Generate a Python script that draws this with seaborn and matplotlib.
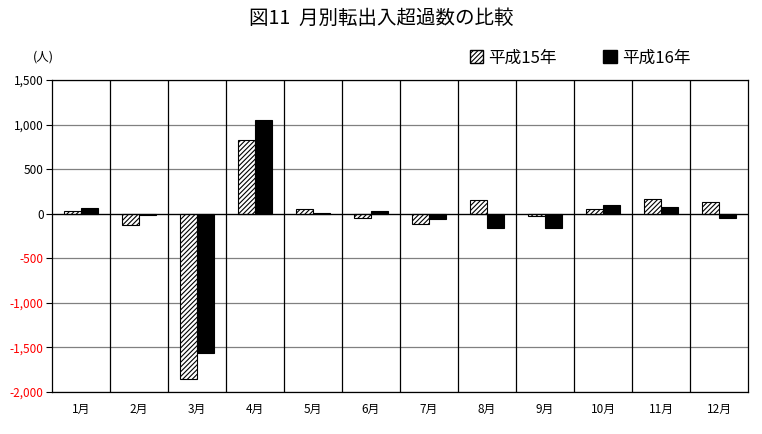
import pandas as pd
import numpy as np
import seaborn as sns
import matplotlib.pyplot as plt
from matplotlib.patches import Patch

# monthly net migration (persons)
months = ['1月', '2月', '3月', '4月', '5月', '6月', '7月', '8月', '9月', '10月', '11月', '12月']
h15 = [35, -125, -1850, 830, 55, -45, -112, 157, -25, 56, 168, 135]
h16 = [60, -10, -1560, 1050, 10, 35, -60, -160, -160, 93, 70, -50]
series = ['平成15年', '平成16年']

df = pd.DataFrame({
    'month': months * 2,
    'value': h15 + h16,
    'year': [series[0]] * 12 + [series[1]] * 12,
})

sns.set_style('white', {'text.color': 'black', 'xtick.color': 'black', 'ytick.color': 'black'})
plt.rcParams['font.family'] = ['Noto Sans CJK JP', 'DejaVu Sans']
plt.rcParams['hatch.linewidth'] = 0.8

fig = plt.figure(figsize=(7.62, 4.34), dpi=100)
ax = fig.add_axes([52 / 762, 1 - 392 / 434, 696 / 762, 312 / 434])

sns.barplot(data=df, x='month', y='value', hue='year', palette=['white', 'black'],
            width=0.6, edgecolor='black', linewidth=0.8, legend=False, ax=ax, zorder=3)

# hatch the first series
for p in ax.patches[:12]:
    p.set_hatch('///////')

ax.set_ylim(-2000, 1500)
ax.set_xlim(-0.5, 11.5)
ax.set_yticks(np.arange(-2000, 1501, 500))
ax.set_yticklabels([f'{v:,}' for v in range(-2000, 1501, 500)], fontsize=8.5)
for t in ax.get_yticklabels():
    t.set_color('red' if t.get_text().startswith('-') else 'black')
ax.tick_params(axis='y', length=4, direction='out', left=True, pad=2)
ax.tick_params(axis='x', length=0, labelsize=8.5, pad=8, labelcolor='black')

ax.yaxis.grid(True, color='gray', linewidth=0.9, zorder=0)
for x in np.arange(0.5, 11.5, 1):
    ax.axvline(x, color='black', linewidth=0.9, zorder=1)
ax.axhline(0, color='black', linewidth=0.9, zorder=4)
for s in ax.spines.values():
    s.set_color('black')
    s.set_linewidth(0.9)

ax.set_xlabel('')
ax.set_ylabel('')

fig.text(0.5, 1 - 18 / 434, '図11  月別転出入超過数の比較', ha='center', va='center',
         fontsize=14, color='black')
fig.text(43 / 762, 1 - 57 / 434, '(人)', ha='center', va='center', fontsize=9, color='black')

handles = [Patch(facecolor='white', edgecolor='black', hatch='///////', label=series[0]),
           Patch(facecolor='black', edgecolor='black', label=series[1])]
leg = fig.legend(handles=handles, loc='center', bbox_to_anchor=(580 / 762, 1 - 58 / 434), ncol=2,
                 frameon=False, fontsize=12, handlelength=0.8, handleheight=0.8,
                 handletextpad=0.3, columnspacing=2.8)
for t in leg.get_texts():
    t.set_color('black')

fig.savefig('out.png', dpi=100)
